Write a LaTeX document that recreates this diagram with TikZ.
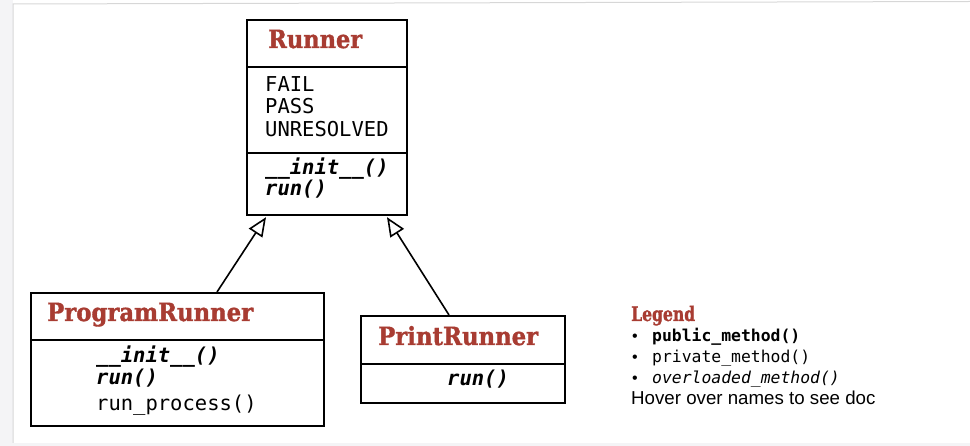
\documentclass[tikz,border=0pt]{standalone}
\usepackage{fontspec}
\usepackage{graphicx}
\setmainfont{Liberation Sans}
\newfontfamily\monof{DejaVu Sans Mono}
\newfontfamily\titlef{DejaVu Serif}[BoldFeatures={FakeBold=1.5}]
\usetikzlibrary{arrows.meta,calc}
\definecolor{titlered}{RGB}{168,60,50}
\definecolor{edgegray}{RGB}{215,215,215}
\definecolor{stripgray}{RGB}{244,244,246}
\tikzset{
  classbox/.style={draw=black, line width=2.2pt, rectangle, inner sep=0pt, anchor=north west},
  divider/.style={draw=black, line width=2.2pt},
  ctitle/.style={anchor=base west, inner sep=0pt, text=titlered, font=\titlef\bfseries\fontsize{25}{28}\selectfont},
  pubm/.style={anchor=base west, inner sep=0pt, font=\monof\bfseries\itshape\fontsize{20.5}{23}\selectfont},
  privm/.style={anchor=base west, inner sep=0pt, font=\monof\fontsize{20.5}{23}\selectfont},
  inherit/.style={line width=1.6pt, -{Triangle[open, length=19pt, width=16pt, line width=1.6pt]}},
  legtitle/.style={anchor=base west, inner sep=0pt, text=titlered, font=\titlef\bfseries\fontsize{20}{22}\selectfont},
  legitem/.style={anchor=base west, inner sep=0pt, font=\monof\fontsize{16.4}{20}\selectfont},
  legbullet/.style={anchor=base west, inner sep=0pt, font=\fontsize{16}{20}\selectfont},
}
\begin{document}
\begin{tikzpicture}[x=1pt, y=-1pt]
\useasboundingbox (0,0) rectangle (970,446);
% page frame hints
\fill[stripgray] (0,0) rectangle (13,443);
\draw[edgegray, line width=1pt] (13,443) -- (13,4) -- (970,1.5);
\fill[stripgray] (0,443) rectangle (970,446);

% Runner
\node[classbox, minimum width=160pt, minimum height=195pt] (runner) at (246,19) {};
\draw[divider] ($(runner.north west)+(0,48)$) -- ($(runner.north east)+(0,48)$);
\draw[divider] ($(runner.north west)+(0,134)$) -- ($(runner.north east)+(0,134)$);
\node[ctitle] (runnerT) at (268,48) {\resizebox{94pt}{\height}{Runner}};
\node[privm] (fail) at (265,92) {FAIL};
\node[privm] (pass) at (265,114) {PASS};
\node[privm] (unres) at (265,137) {UNRESOLVED};
\node[pubm] (rinit) at (265,175) {\_\_init\_\_()};
\node[pubm] (rrun) at (265,196) {run()};

% ProgramRunner
\node[classbox, minimum width=293pt, minimum height=133pt] (prog) at (30,292) {};
\draw[divider] ($(prog.north west)+(0,48)$) -- ($(prog.north east)+(0,48)$);
\node[ctitle] (progT) at (47,321) {\resizebox{206pt}{\height}{ProgramRunner}};
\node[pubm] (pinit) at (96,363) {\_\_init\_\_()};
\node[pubm] (prun) at (96,385) {run()};
\node[privm] (pproc) at (96,411) {run\_process()};

% PrintRunner
\node[classbox, minimum width=204pt, minimum height=87pt] (print) at (360,315) {};
\draw[divider] ($(print.north west)+(0,49)$) -- ($(print.north east)+(0,49)$);
\node[ctitle] (printT) at (378,345) {\resizebox{160pt}{\height}{PrintRunner}};
\node[pubm] (trun) at (447,386) {run()};

% inheritance
\draw[inherit] ($(prog.north west)+(187,0)$) -- ($(runner.south west)+(20,1)$);
\draw[inherit] ($(print.north west)+(89,0)$) -- ($(runner.south west)+(141,1)$);

% Legend
\node[legtitle] (legT) at (631,321) {\resizebox{64pt}{\height}{Legend}};
\node[legbullet] (b1) at (632,342) {•};
\node[legitem, font=\monof\bfseries\fontsize{16.4}{20}\selectfont] (l1) at (652,342) {public\_method()};
\node[legbullet] (b2) at (632,363) {•};
\node[legitem] (l2) at (652,363) {private\_method()};
\node[legbullet] (b3) at (632,384) {•};
\node[legitem, font=\monof\itshape\fontsize{16.4}{20}\selectfont] (l3) at (652,384) {overloaded\_method()};
\node[anchor=base west, inner sep=0pt, font=\fontsize{18.7}{22}\selectfont] (hover) at (631,405) {Hover over names to see doc};
\end{tikzpicture}
\end{document}
